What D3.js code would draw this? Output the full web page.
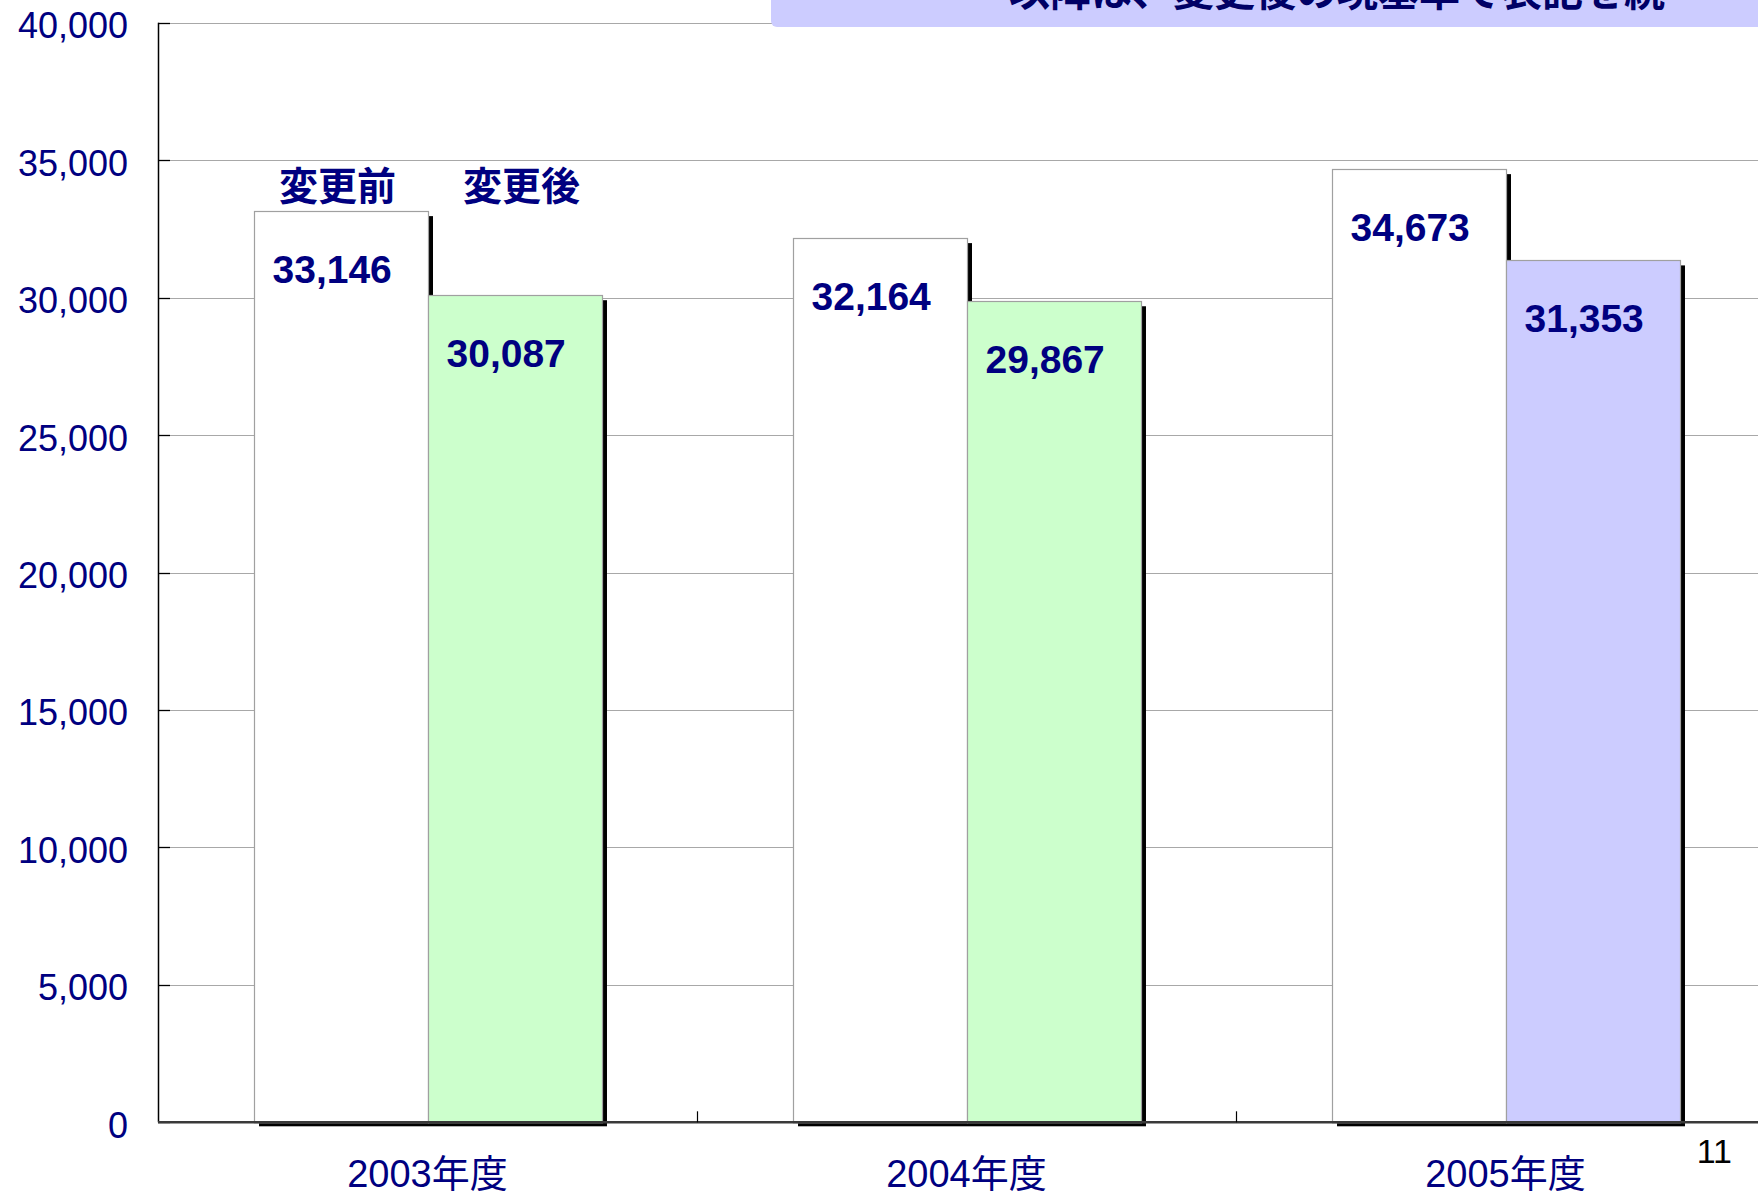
<!DOCTYPE html>
<html>
<head>
<meta charset="utf-8">
<script src="https://cdn.jsdelivr.net/npm/d3@7"></script>
<style>
  html, body { margin: 0; padding: 0; background: #ffffff; }
  svg { display: block; }
</style>
</head>
<body>
<script>
// ---- data ----
const categories = ["2003年度", "2004年度", "2005年度"];
const seriesKeys = ["before", "after"];
const seriesLabels = ["変更前", "変更後"];
const beforeValues = [33146, 32164, 34673];
const afterValues = [30087, 29867, 31353];
const currentBasisCategory = "2005年度";
const yTickValues = [0, 5000, 10000, 15000, 20000, 25000, 30000, 35000, 40000];
const noteText = "以降は、変更後の現基準で表記を続";
const pageNumber = "11";

// ---- layout ----
const W = 1758, H = 1195;
const plotLeft = 158, plotRight = 1775, plotTop = 22.7, plotBottom = 1122.3;
const navy = "#000080";
const latin = "'Liberation Sans', Arial, 'Noto Sans CJK JP', sans-serif";
const cjk = "'Noto Sans CJK JP', 'Liberation Sans', sans-serif";

const svg = d3.select("body").append("svg").attr("width", W).attr("height", H);

const x0 = d3.scaleBand().domain(categories).range([plotLeft, plotRight]).padding(0);
const x1 = d3.scaleBand().domain(seriesKeys).range([0, x0.bandwidth()]).paddingInner(0).paddingOuter(0.549);
const y = d3.scaleLinear().domain([0, 40000]).range([plotBottom, plotTop]);

// gridlines
svg.append("g").selectAll("line").data(yTickValues.filter(v => v > 0)).join("line")
  .attr("x1", plotLeft).attr("x2", W)
  .attr("y1", d => Math.round(y(d)) + 0.5).attr("y2", d => Math.round(y(d)) + 0.5)
  .attr("stroke", "#a8a8a8").attr("stroke-width", 1.2);

// bar data
const bars = [];
categories.forEach((c, i) => {
  bars.push({cat: c, key: "before", value: beforeValues[i]});
  bars.push({cat: c, key: "after", value: afterValues[i]});
});
const fillOf = d => d.key === "before" ? "#ffffff" : (d.cat === currentBasisCategory ? "#ccccff" : "#ccffcc");
const bx = d => x0(d.cat) + x1(d.key);

// shadows
svg.append("g").selectAll("rect").data(bars).join("rect")
  .attr("x", d => bx(d) + 5.5).attr("y", d => y(d.value) + 5)
  .attr("width", x1.bandwidth()).attr("height", d => plotBottom - y(d.value) - 1)
  .attr("fill", "#000");

// bars
svg.append("g").selectAll("rect").data(bars).join("rect")
  .attr("x", d => Math.round(bx(d)) + 0.5).attr("y", d => Math.round(y(d.value)) + 0.5)
  .attr("width", Math.round(x1.bandwidth())).attr("height", d => plotBottom - Math.round(y(d.value)))
  .attr("fill", fillOf).attr("stroke", "#a0a0a0").attr("stroke-width", 1.2);

// value labels
svg.append("g").selectAll("text").data(bars).join("text")
  .attr("x", d => bx(d) + 19).attr("y", d => y(d.value) + 72)
  .attr("font-family", latin).attr("font-weight", "bold").attr("font-size", 39)
  .attr("fill", navy)
  .text(d => d3.format(",")(d.value));

// series header labels above first group
svg.append("g").selectAll("text").data(seriesKeys).join("text")
  .attr("x", (k, i) => x0(categories[0]) + x1(k) + x1.bandwidth() / 2 + (i === 0 ? -3 : 7))
  .attr("y", 200)
  .attr("text-anchor", "middle")
  .attr("font-family", cjk).attr("font-weight", "bold").attr("font-size", 39)
  .attr("fill", navy)
  .text((k, i) => seriesLabels[i]);

// y axis line
svg.append("line").attr("x1", plotLeft + 0.5).attr("x2", plotLeft + 0.5)
  .attr("y1", plotTop).attr("y2", plotBottom).attr("stroke", "#000").attr("stroke-width", 1.5);

// y ticks (inward)
svg.append("g").selectAll("line").data(yTickValues).join("line")
  .attr("x1", plotLeft).attr("x2", plotLeft + 12)
  .attr("y1", d => Math.round(y(d)) + 0.5).attr("y2", d => Math.round(y(d)) + 0.5)
  .attr("stroke", "#000").attr("stroke-width", 1.3);

// y tick labels
svg.append("g").selectAll("text").data(yTickValues).join("text")
  .attr("x", 128).attr("y", d => y(d) + 15.5)
  .attr("text-anchor", "end")
  .attr("font-family", latin).attr("font-size", 36).attr("fill", navy)
  .text(d => d3.format(",")(d));

// x axis line
svg.append("line").attr("x1", plotLeft).attr("x2", W)
  .attr("y1", plotBottom).attr("y2", plotBottom)
  .attr("stroke", "#3a3a3a").attr("stroke-width", 2.5);

// category boundary ticks (inward)
svg.append("g").selectAll("line").data(categories.slice(1)).join("line")
  .attr("x1", d => Math.round(x0(d)) + 0.5).attr("x2", d => Math.round(x0(d)) + 0.5)
  .attr("y1", plotBottom - 11).attr("y2", plotBottom)
  .attr("stroke", "#000").attr("stroke-width", 1.2);

// category labels
svg.append("g").selectAll("text").data(categories).join("text")
  .attr("x", d => x0(d) + x0.bandwidth() / 2).attr("y", 1187)
  .attr("text-anchor", "middle")
  .attr("font-family", latin).attr("font-size", 38).attr("fill", navy)
  .text(d => d);

// note box (top right, clipped)
svg.append("rect").attr("x", 771).attr("y", -30).attr("width", 1100).attr("height", 57)
  .attr("rx", 6).attr("fill", "#ccccff");
svg.append("text").attr("x", 1009).attr("y", 6)
  .attr("font-family", cjk).attr("font-weight", "bold").attr("font-size", 41)
  .attr("fill", "#000066")
  .text(noteText);

// page number
svg.append("text").attr("x", 1732).attr("y", 1163).attr("text-anchor", "end")
  .attr("font-family", latin).attr("font-size", 34).attr("fill", "#000")
  .text(pageNumber);
</script>
</body>
</html>
